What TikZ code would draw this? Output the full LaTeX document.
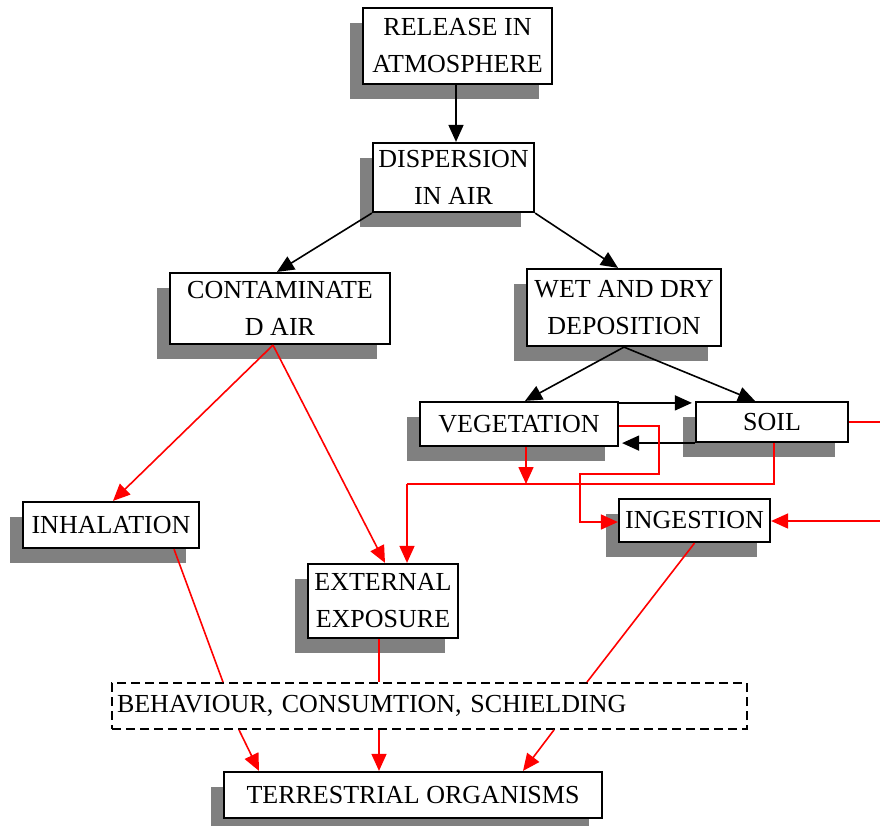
\documentclass[tikz,border=0pt]{standalone}
\usepackage{fontspec}
\setmainfont{Liberation Serif}
\usetikzlibrary{shadows,arrows.meta}
\definecolor{shadowgray}{HTML}{808080}
\definecolor{linkred}{HTML}{FF0000}
\tikzset{
  box/.style={draw=black, line width=2.2pt, fill=white, inner sep=0pt, align=center,
    font=\fontsize{26}{37}\selectfont,
    general shadow={fill=shadowgray, shadow xshift=-13pt, shadow yshift=-15pt}},
  dashbox/.style={draw=black, line width=1.8pt, dash pattern=on 9pt off 5pt, fill=white,
    align=left, text width=625pt, inner xsep=5pt, inner ysep=0pt, minimum height=46pt,
    font=\fontsize{26}{37}\selectfont},
  blk/.style={draw=black, line width=1.6pt, -{Triangle[length=17pt,width=15pt]}},
  redarrow/.style={draw=linkred, line width=1.6pt, -{Triangle[length=17pt,width=15pt]}},
  redline/.style={draw=linkred, line width=1.6pt},
}
\begin{document}
\begin{tikzpicture}[x=1pt,y=-1pt]
\useasboundingbox (0,0) rectangle (880,825);

\node[box, minimum width=189pt, minimum height=76pt] (rel)  at (457.5,46)  {RELEASE IN\\ATMOSPHERE};
\node[box, minimum width=161pt, minimum height=69pt] (disp) at (453.5,177.5) {DISPERSION\\IN AIR};
\node[box, minimum width=220pt, minimum height=71pt] (cont) at (280,308.5) {CONTAMINATE\\D AIR};
\node[box, minimum width=194pt, minimum height=77pt] (wet)  at (624,307.5) {WET AND DRY\\DEPOSITION};
\node[box, minimum width=198pt, minimum height=44pt] (veg)  at (519,424)   {VEGETATION};
\node[box, minimum width=152pt, minimum height=40pt] (soil) at (772,422)   {SOIL};
\node[box, minimum width=151pt, minimum height=43pt] (ing)  at (694.5,520.5) {INGESTION};
\node[box, minimum width=176pt, minimum height=46pt] (inh)  at (111,525)   {INHALATION};
\node[box, minimum width=150pt, minimum height=74pt] (ext)  at (383,601)   {EXTERNAL\\EXPOSURE};
\node[dashbox] (beh) at (429.5,706) {BEHAVIOUR, CONSUMTION, SCHIELDING};
\node[box, minimum width=378pt, minimum height=46pt] (terr) at (413,795)   {TERRESTRIAL ORGANISMS};

% black connectors
\draw[blk] ([xshift=-1.5pt]rel.south) -- ([xshift=2.5pt]disp.north);
\draw[blk] (disp.south west) -- ([xshift=-3pt]cont.north);
\draw[blk] (disp.south east) -- ([xshift=-6pt]wet.north);
\draw[blk] (wet.south) -- ([xshift=6pt]veg.north);
\draw[blk] (wet.south) -- ([xshift=-17pt]soil.north);
\draw[blk, shorten >=3pt] ([yshift=-2pt]veg.north east) -- ([yshift=-2pt]soil.north west);
\draw[blk, shorten >=3pt] (soil.south west) -- (soil.south west -| veg.east);

% red connectors
\coordinate (c0) at ([xshift=-7pt]cont.south);
\draw[redarrow] (c0) -- ([xshift=2pt]inh.north);
\draw[redarrow] (c0) -- ([xshift=2pt]ext.north);

\coordinate (j) at (407,484);
\draw[redline] ([xshift=2pt]soil.south) |- (j);
\draw[redarrow] (j) -- (j |- ext.north);
\draw[redarrow] ([xshift=7pt]veg.south) -- ([xshift=7pt]veg.south |- j);

\coordinate (a1) at (659,474);
\coordinate (a2) at (580,522);
\draw[redarrow] ([yshift=-2pt]veg.east) -| (a1) -| (a2) -- (a2 -| ing.west);

\coordinate (e1) at (880,422);
\coordinate (e2) at (880,521);
\draw[redline] (soil.east) -- (e1);
\draw[redarrow] (e2) -- (e2 -| ing.east);

% into behaviour box and on to terrestrial organisms
\draw[redline] ([xshift=63pt]inh.south) -- ([xshift=-206.5pt]beh.north);
\draw[redline] ([xshift=-4pt]ext.south) -- ([xshift=-50.5pt]beh.north);
\draw[redline] (ing.south) -- ([xshift=157.5pt]beh.north);

\draw[redarrow] ([xshift=-190.5pt]beh.south) -- ([xshift=-154pt]terr.north);
\draw[redarrow] ([xshift=-50.5pt]beh.south) -- ([xshift=-34pt]terr.north);
\draw[redarrow] ([xshift=124.5pt]beh.south) -- ([xshift=110pt]terr.north);
\end{tikzpicture}
\end{document}
